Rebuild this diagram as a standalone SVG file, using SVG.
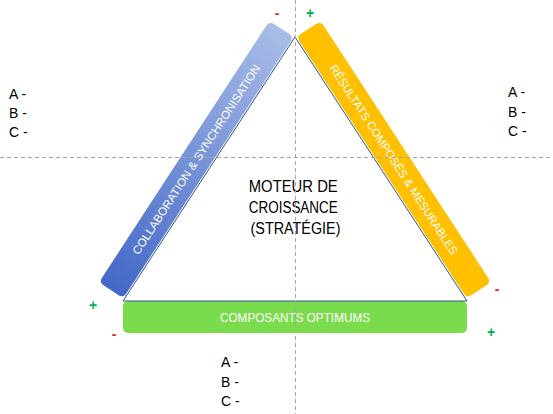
<svg xmlns="http://www.w3.org/2000/svg" width="553" height="414" viewBox="0 0 553 414">
<style>
.lbl{font-family:"Liberation Sans",Arial,sans-serif;}
.bar-t{font-size:11.5px;fill:#ffffff;text-anchor:middle;}
.list{font-size:14px;fill:#000000;}
.sign{font-size:14px;font-weight:bold;text-anchor:middle;}
.dash{stroke:#a6a6a6;stroke-width:1;stroke-dasharray:4 3;fill:none;}
</style>
<defs>
<linearGradient id="blueGrad" x1="0" y1="0" x2="1" y2="0">
<stop offset="0" stop-color="#4468C8"/>
<stop offset="1" stop-color="#A9BDE7"/>
</linearGradient>
</defs>
<rect width="553" height="414" fill="#ffffff"/>
<g id="bar-collaboration">
<rect x="-156" y="-14.5" width="312" height="29" rx="5" fill="url(#blueGrad)" transform="translate(196.3,159.6) rotate(-56.9)"/>
<text class="lbl bar-t" x="0" y="4" textLength="224" lengthAdjust="spacingAndGlyphs" transform="translate(196.3,159.6) rotate(-56.9)">COLLABORATION &amp; SYNCHRONISATION</text>
</g>
<g id="bar-resultats">
<rect x="-156" y="-14.5" width="312" height="29" rx="5" fill="#FFC000" transform="translate(393.7,159.6) rotate(56.9)"/>
<text class="lbl bar-t" x="0" y="4" textLength="224" lengthAdjust="spacingAndGlyphs" transform="translate(393.7,159.6) rotate(56.9)">RÉSULTATS COMPOSÉS &amp; MESURABLES</text>
</g>
<g id="bar-composants">
<rect x="123" y="301" width="344" height="32" rx="5" fill="#7ADB4C"/>
<text class="lbl" x="295" y="322" font-size="13" fill="#ffffff" text-anchor="middle" textLength="150" lengthAdjust="spacingAndGlyphs">COMPOSANTS OPTIMUMS</text>
</g>
<g id="connectors">
<polygon points="295,37 123,301 467,301" fill="none" stroke="#2F5597" stroke-width="1"/>
</g>
<g id="center-text">
<text class="lbl" font-size="16" fill="#000000" text-anchor="middle">
<tspan x="295.5" y="192" textLength="89" lengthAdjust="spacingAndGlyphs">MOTEUR DE</tspan>
<tspan x="295.5" y="213" textLength="89" lengthAdjust="spacingAndGlyphs">CROISSANCE</tspan>
<tspan x="295.5" y="234" textLength="90" lengthAdjust="spacingAndGlyphs">(STRATÉGIE)</tspan>
</text>
</g>
<g id="guides">
<line class="dash" x1="295.5" y1="0" x2="295.5" y2="414"/>
<line class="dash" x1="0" y1="157.5" x2="553" y2="157.5"/>
</g>
<g id="list-left">
<text class="lbl list" x="9" y="99">A -</text>
<text class="lbl list" x="9" y="118">B -</text>
<text class="lbl list" x="9" y="137">C -</text>
</g>
<g id="list-right">
<text class="lbl list" x="508" y="97">A -</text>
<text class="lbl list" x="508" y="117">B -</text>
<text class="lbl list" x="508" y="136">C -</text>
</g>
<g id="list-bottom">
<text class="lbl list" x="221" y="367">A -</text>
<text class="lbl list" x="221" y="387">B -</text>
<text class="lbl list" x="221" y="406">C -</text>
</g>
<g id="signs">
<text class="lbl sign" fill="#E02020" x="277" y="18">-</text>
<text class="lbl sign" fill="#00B050" x="310" y="18">+</text>
<text class="lbl sign" fill="#E02020" x="497" y="294">-</text>
<text class="lbl sign" fill="#00B050" x="93" y="310">+</text>
<text class="lbl sign" fill="#E02020" x="114" y="339">-</text>
<text class="lbl sign" fill="#00B050" x="491" y="337">+</text>
</g>
</svg>
